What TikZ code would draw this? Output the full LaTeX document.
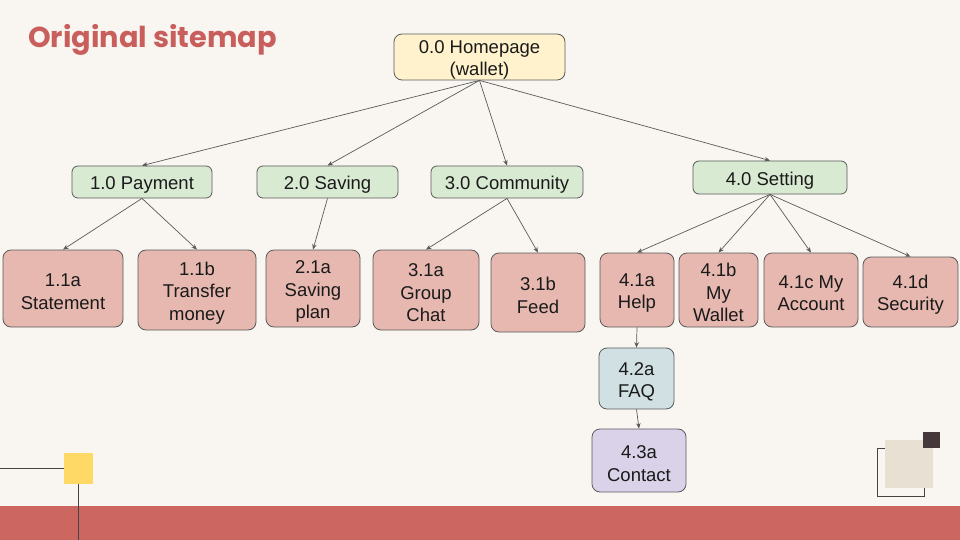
\documentclass[tikz,border=0pt]{standalone}
\usepackage{fontspec}
\setmainfont{Liberation Sans}
\newfontfamily\titlefont{Poppins}
\usetikzlibrary{arrows.meta}
\newcommand\fst{\rule{0pt}{19pt}}
\definecolor{bgc}{RGB}{249,246,242}
\definecolor{bandc}{RGB}{204,102,96}
\definecolor{titlec}{RGB}{201,95,92}
\definecolor{linec}{RGB}{90,90,90}
\definecolor{txt}{RGB}{26,26,26}
\definecolor{yelc}{RGB}{255,242,204}
\definecolor{grnc}{RGB}{217,234,211}
\definecolor{pinkc}{RGB}{230,184,175}
\definecolor{bluec}{RGB}{208,224,227}
\definecolor{purc}{RGB}{217,210,233}
\definecolor{sqyel}{RGB}{255,217,102}
\definecolor{sqbeige}{RGB}{232,224,211}
\definecolor{sqdark}{RGB}{69,56,58}
\definecolor{decline}{RGB}{68,68,68}
\begin{document}
\begin{tikzpicture}[x=1pt,y=-1pt,
  box/.style={draw=linec, line width=0.8pt, rounded corners=8pt, align=center,
    inner sep=0pt, font=\fontsize{18.5}{22.5}\selectfont, text=txt},
  lvl1/.style={box, fill=grnc, rounded corners=6pt, execute at begin node={\fst}},
  leaf/.style={box, fill=pinkc},
  arr/.style={draw=linec, line width=0.7pt, -{Stealth[length=5.5pt,width=4.5pt]}},
  deco/.style={draw=decline, line width=0.9pt}]
% background
\fill[bgc] (0,0) rectangle (960,540);
\useasboundingbox (0,0) rectangle (960,540);
\fill[bandc] (0,506) rectangle (960,540);
% bottom-left decoration
\draw[deco] (0,468) -- (64,468);
\draw[deco] (78,484) -- (78,540);
\fill[sqyel] (64,453) rectangle (93,484);
% bottom-right decoration
\draw[deco] (877,448) rectangle (924,496);
\fill[sqbeige] (885,440) rectangle (933,488);
\fill[sqdark] (923,432) rectangle (940,448);
% title
\node[anchor=base west, inner sep=0pt, text=titlec,
  font=\titlefont\bfseries\fontsize{28.8}{30}\selectfont] (title) at (28,48) {Original sitemap};
% nodes
\node[box, fill=yelc, minimum width=171pt, minimum height=46pt] (home) at (479.5,57) {\fst 0.0 Homepage\\(wallet)};
\node[lvl1, minimum width=140pt, minimum height=32pt] (pay) at (142,182) {1.0 Payment};
\node[lvl1, minimum width=141pt, minimum height=32pt] (sav) at (327.5,182) {2.0 Saving};
\node[lvl1, minimum width=152pt, minimum height=32pt] (com) at (507,182) {3.0 Community};
\node[lvl1, minimum width=154pt, minimum height=33pt] (set) at (770,177.5) {4.0 Setting};
\node[leaf, minimum width=120pt, minimum height=77pt] (s11a) at (63,288.5) {\fst 1.1a\\Statement};
\node[leaf, minimum width=118pt, minimum height=80pt] (s11b) at (197,290) {\fst 1.1b\\Transfer\\money};
\node[leaf, minimum width=94pt, minimum height=77pt] (s21a) at (313,288.5) {\fst 2.1a\\Saving\\plan};
\node[leaf, minimum width=106pt, minimum height=80pt] (s31a) at (426,290) {\fst 3.1a\\Group\\Chat};
\node[leaf, minimum width=94pt, minimum height=79pt] (s31b) at (538,292.5) {\fst 3.1b\\Feed};
\node[leaf, minimum width=74pt, minimum height=74pt] (s41a) at (637,290) {\fst 4.1a\\Help};
\node[leaf, minimum width=79pt, minimum height=74pt] (s41b) at (718.5,290) {\fst 4.1b\\My\\Wallet};
\node[leaf, minimum width=94pt, minimum height=74pt] (s41c) at (811,290) {\fst 4.1c My\\Account};
\node[leaf, minimum width=95pt, minimum height=70pt] (s41d) at (910.5,292) {\fst 4.1d\\Security};
\node[box, fill=bluec, minimum width=75pt, minimum height=61pt] (s42a) at (636.5,378.5) {\fst 4.2a\\FAQ};
\node[box, fill=purc, minimum width=94pt, minimum height=63pt] (s43a) at (639,460.5) {\fst 4.3a\\Contact};
% connectors
\draw[arr] (home.south) -- (pay.north);
\draw[arr] (home.south) -- (sav.north);
\draw[arr] (home.south) -- (com.north);
\draw[arr] (home.south) -- (set.north);
\draw[arr] (pay.south) -- (s11a.north);
\draw[arr] (pay.south) -- (s11b.north);
\draw[arr] (sav.south) -- (s21a.north);
\draw[arr] (com.south) -- (s31a.north);
\draw[arr] (com.south) -- (s31b.north);
\draw[arr] (set.south) -- (s41a.north);
\draw[arr] (set.south) -- (s41b.north);
\draw[arr] (set.south) -- (s41c.north);
\draw[arr] (set.south) -- (s41d.north);
\draw[arr] (s41a.south) -- (s42a.north);
\draw[arr] (s42a.south) -- (s43a.north);
\end{tikzpicture}
\end{document}
